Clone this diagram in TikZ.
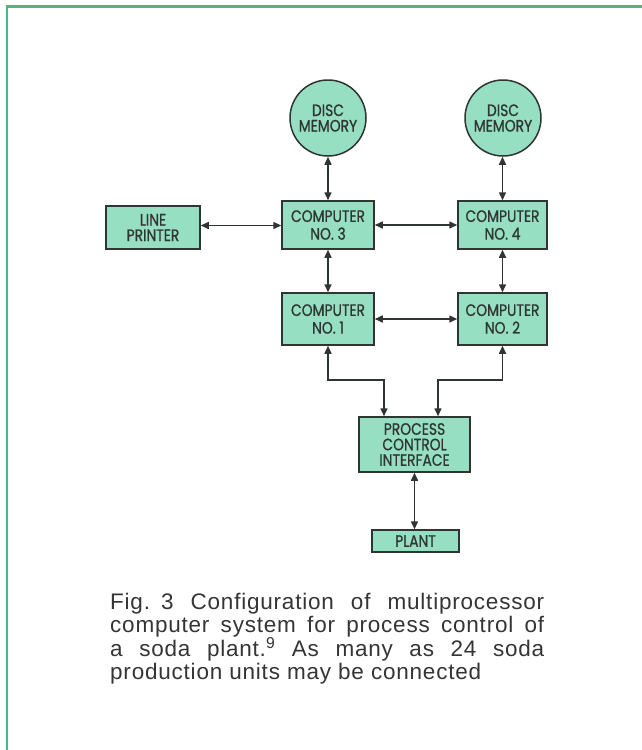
\documentclass[tikz,border=0pt]{standalone}
\usepackage{fontspec}
\setmainfont{Liberation Sans}
\newfontfamily\boxfont[FakeStretch=0.84,FakeBold=0.8]{Poppins}
\newfontfamily\capfont[LetterSpace=3.5]{Liberation Sans}
\usetikzlibrary{arrows.meta}
\definecolor{boxfill}{HTML}{96DFC3}
\definecolor{framegreen}{HTML}{4DB879}
\definecolor{ink}{HTML}{2F3532}
\definecolor{captext}{HTML}{353535}
\begin{document}
\begin{tikzpicture}[x=1pt,y=-1pt,
  blk/.style={draw=ink, line width=1.5pt, fill=boxfill, inner sep=0pt, align=center,
    font=\boxfont\fontsize{16.5}{15.5}\selectfont, text=ink},
  disc/.style={blk, circle, minimum size=76pt},
  rect/.style={blk, rectangle},
  comp/.style={rect, font=\boxfont\fontsize{16.5}{17.7}\selectfont},
  conn/.style={draw=ink, line width=1.5pt,
    {Triangle[length=8pt,width=7pt]}-{Triangle[length=8pt,width=7pt]}},
  capline/.style={anchor=base west, inner sep=0pt, text=captext,
    font=\capfont\fontsize{22.5}{23.5}\selectfont},
]
\useasboundingbox (0,0) rectangle (642,750);
\fill[white] (0,0) rectangle (642,750);
% frame
\draw[framegreen, line width=2.5pt] (7,750) -- (7,6.5) -- (642,6.5);

% nodes
\node[disc] (d1) at (328,118) {DISC\\MEMORY};
\node[disc] (d2) at (503,118) {DISC\\MEMORY};
\node[rect, minimum width=94pt, minimum height=43pt] (lp) at (153,227.5) {LINE\\PRINTER};
\node[comp, minimum width=92pt, minimum height=48pt] (c3) at (328,225) {COMPUTER\\NO.\ 3};
\node[comp, minimum width=89pt, minimum height=48pt] (c4) at (502.5,225) {COMPUTER\\NO.\ 4};
\node[comp, minimum width=92pt, minimum height=52pt] (c1) at (328,319) {COMPUTER\\NO.\ 1};
\node[comp, minimum width=89pt, minimum height=52pt] (c2) at (502.5,319) {COMPUTER\\NO.\ 2};
\node[rect, minimum width=111pt, minimum height=55pt] (pci) at (414.5,444.5) {PROCESS\\CONTROL\\INTERFACE};
\node[rect, minimum width=87pt, minimum height=22pt] (plant) at (415.5,541) {PLANT};

% connectors
\draw[conn] (d1.south) -- (c3.north);
\draw[conn] (d2.south -| c4.north) -- (c4.north);
\draw[conn] ([yshift=2pt]lp.east) -- ([yshift=2pt]lp.east -| c3.west);
\draw[conn] (c3.east) -- (c4.west);
\draw[conn] (c3.south) -- (c1.north);
\draw[conn] (c4.south) -- (c2.north);
\draw[conn] (c1.east) -- (c2.west);
\draw[conn] (c1.south) -- ++(0,34) -| ([xshift=-30.5pt]pci.north);
\draw[conn] (c2.south) -- ++(0,34) -| ([xshift=23.5pt]pci.north);
\draw[conn] (pci.south) -- (pci.south |- plant.north);

% caption
\node[capline] (cap1) at (110,609) {\makebox[434pt][s]{Fig.\kern11pt3 Configuration of multiprocessor}};
\node[capline] (cap2) at (110,632.5) {\makebox[434pt][s]{computer system for process control of}};
\node[capline] (cap3) at (110,656) {\makebox[434pt][s]{a soda plant.\textsuperscript{9} As many as 24 soda}};
\node[capline] (cap4) at (110,679.5) {production units may be connected};
\end{tikzpicture}
\end{document}
